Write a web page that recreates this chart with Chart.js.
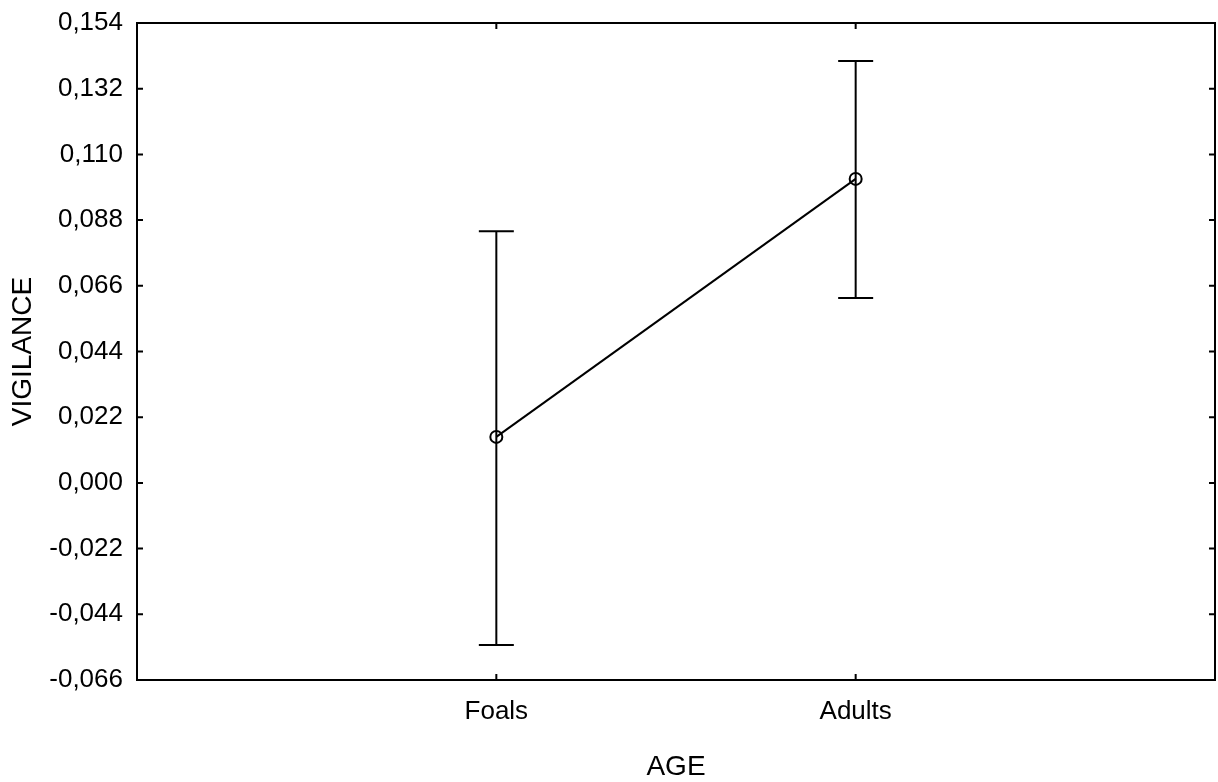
<!DOCTYPE html>
<html>
<head>
<meta charset="utf-8">
<script src="https://cdn.jsdelivr.net/npm/chart.js@4.4.1/dist/chart.umd.min.js"></script>
<style>
  html, body { margin: 0; padding: 0; background: #fff; }
  #wrap { width: 1218px; height: 782px; }
</style>
</head>
<body>
<div id="wrap"><canvas id="vigChart" width="1218" height="782"></canvas></div>
<script>
// ---- data ----
const categories = ['Foals', 'Adults'];
const means = [0.0154, 0.1018];
const upperLimits = [0.0843, 0.1413];
const lowerLimits = [-0.0543, 0.0619];
const yTickValues = [-0.066, -0.044, -0.022, 0.000, 0.022, 0.044, 0.066, 0.088, 0.110, 0.132, 0.154];

const fontFamily = '"Liberation Sans", Arial, sans-serif';

// frame, inward tick marks and error bars
const framePlugin = {
    id: 'framePlugin',
    beforeDatasetsDraw(chart) {
        const ctx = chart.ctx;
        const xs = chart.scales.x;
        const ys = chart.scales.y;
        ctx.save();
        ctx.strokeStyle = '#000';
        ctx.lineWidth = 2;
        // error bars
        categories.forEach((c, i) => {
            const x = xs.getPixelForValue(i + 1);
            const yTop = ys.getPixelForValue(upperLimits[i]);
            const yBot = ys.getPixelForValue(lowerLimits[i]);
            ctx.beginPath();
            ctx.moveTo(x, yTop);
            ctx.lineTo(x, yBot);
            ctx.moveTo(x - 17.5, yTop);
            ctx.lineTo(x + 17.5, yTop);
            ctx.moveTo(x - 17.5, yBot);
            ctx.lineTo(x + 17.5, yBot);
            ctx.stroke();
        });
        ctx.restore();
    },
    afterDraw(chart) {
        const ctx = chart.ctx;
        const a = chart.chartArea;
        const xs = chart.scales.x;
        const ys = chart.scales.y;
        ctx.save();
        ctx.strokeStyle = '#000';
        ctx.lineWidth = 2;
        ctx.strokeRect(a.left, a.top, a.right - a.left, a.bottom - a.top);
        ctx.beginPath();
        yTickValues.forEach(v => {
            const y = ys.getPixelForValue(v);
            ctx.moveTo(a.left, y);
            ctx.lineTo(a.left + 6, y);
            ctx.moveTo(a.right, y);
            ctx.lineTo(a.right - 6, y);
        });
        categories.forEach((c, i) => {
            const x = xs.getPixelForValue(i + 1);
            ctx.moveTo(x, a.bottom);
            ctx.lineTo(x, a.bottom - 6);
            ctx.moveTo(x, a.top);
            ctx.lineTo(x, a.top + 6);
        });
        ctx.stroke();
        ctx.restore();
    }
};

const vigChart = new Chart(document.getElementById('vigChart'), {
    type: 'line',
    data: {
        datasets: [
            {
                label: 'VIGILANCE',
                data: means.map((m, i) => ({ x: i + 1, y: m })),
                borderColor: '#000',
                borderWidth: 2,
                pointRadius: 6,
                pointBorderWidth: 2,
                pointBackgroundColor: 'rgba(0,0,0,0)',
                pointBorderColor: '#000',
                fill: false,
                tension: 0,
            },
        ],
    },
    options: {
        responsive: false,
        animation: false,
        layout: { autoPadding: false, padding: { left: 0, top: 23, right: 3, bottom: 0 } },
        plugins: {
            legend: { display: false },
            tooltip: { enabled: false },
        },
        scales: {
            x: {
                type: 'linear',
                min: 0,
                max: 3,
                afterBuildTicks: (scale) => {
                    scale.ticks = categories.map((c, i) => ({ value: i + 1 }));
                },
                afterFit: (scale) => {
                    scale.height = 102;
                    scale.paddingLeft = 0;
                    scale.paddingRight = 0;
                },
                grid: { display: false, drawTicks: false },
                border: { display: false },
                ticks: {
                    padding: 16,
                    color: '#000',
                    font: { family: fontFamily, size: 26 },
                    callback: (v) => categories[v - 1],
                },
                title: {
                    display: true,
                    text: 'AGE',
                    color: '#000',
                    font: { family: fontFamily, size: 28 },
                    padding: { top: 0, bottom: -2 },
                },
            },
            y: {
                min: -0.066,
                max: 0.154,
                afterBuildTicks: (scale) => {
                    scale.ticks = yTickValues.map(v => ({ value: v }));
                },
                afterFit: (scale) => {
                    scale.width = 137;
                    scale.paddingTop = 0;
                    scale.paddingBottom = 0;
                },
                grid: { display: false, drawTicks: false },
                border: { display: false },
                ticks: {
                    padding: 14,
                    color: '#000',
                    font: { family: fontFamily, size: 26 },
                    callback: (v) => v.toFixed(3).replace('.', ','),
                },
                title: {
                    display: true,
                    text: 'VIGILANCE',
                    color: '#000',
                    font: { family: fontFamily, size: 28 },
                    padding: { top: 6, bottom: 0 },
                },
            },
        },
    },
    plugins: [framePlugin],
});
</script>
</body>
</html>
